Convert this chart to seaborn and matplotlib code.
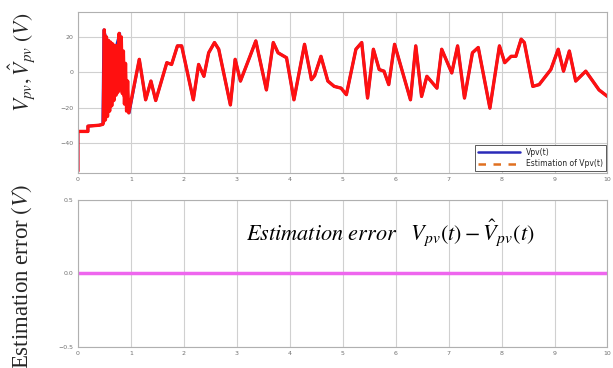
import numpy as np
import pandas as pd
import matplotlib
matplotlib.use("Agg")
import matplotlib.pyplot as plt
import seaborn as sns
from matplotlib.lines import Line2D


# 1. Data

# measured PV voltage Vpv(t)
t_vpv = [0.0, 0.0, 0.19, 0.19, 0.40, 0.47, 0.49, 0.55, 0.65, 0.72, 0.79, 0.97,
         1.16, 1.28, 1.38, 1.47, 1.68, 1.77, 1.88, 1.96, 2.18, 2.28, 2.38, 2.47,
         2.58, 2.66, 2.88, 2.97, 3.07, 3.25, 3.36, 3.56, 3.69, 3.78, 3.94, 4.08,
         4.28, 4.41, 4.47, 4.59, 4.72, 4.84, 4.97, 5.07, 5.25, 5.36, 5.47, 5.58,
         5.69, 5.78, 5.87, 5.98, 6.28, 6.38, 6.49, 6.59, 6.78, 6.87, 7.06, 7.17,
         7.30, 7.45, 7.56, 7.78, 7.96, 8.06, 8.18, 8.27, 8.37, 8.43, 8.59, 8.71,
         8.93, 9.07, 9.17, 9.28, 9.40, 9.59, 9.84, 10.0]
v_vpv = [-56, -33.5, -33.5, -30.5, -30.0, -29.5, 24.0, 17.0, 15.0, 14.0, 22.0, -23.0,
         7.3, -15.6, -5.0, -16.0, 5.4, 4.4, 14.9, 14.9, -15.6, 4.4, -2.3, 11.0,
         16.8, 13.0, -18.5, 7.3, -5.0, 9.0, 17.7, -10.0, 16.8, 11.0, 8.2, -15.6,
         15.8, -4.2, -2.0, 9.0, -5.0, -8.0, -9.0, -12.7, 13.0, 16.8, -14.6, 13.0,
         1.5, 0.6, -7.0, 15.8, -15.6, 14.9, -13.7, -2.3, -9.0, 13.0, -0.4, 14.9,
         -14.6, 11.0, 14.0, -20.3, 14.9, 5.4, 9.0, 9.0, 18.7, 16.8, -8.0, -7.0,
         1.5, 13.0, 0.6, 12.0, -5.0, 0.6, -10.0, -13.7]

# estimate: chatters between 0.48 s and 0.97 s, then tracks Vpv
t_band = [0.48, 0.50, 0.52, 0.54, 0.56, 0.58, 0.60, 0.62, 0.64, 0.66, 0.68, 0.70,
          0.72, 0.74, 0.76, 0.78, 0.80, 0.82, 0.84, 0.86, 0.88, 0.90, 0.92, 0.94, 0.96]
v_band = [-29, 24, -27, 20, -25, 18, -22, 17, -19, 16, -16, 15,
          -13, 15, -11, 22, -8, 20, -12, 12, -18, 5, -22, -5, -23]

# envelope of the chattering band
t_env = [0.48, 0.50, 0.55, 0.60, 0.65, 0.70, 0.75, 0.79, 0.85, 0.90, 0.97]
env_hi = [-29, 24, 18, 17, 16, 15, 17, 22, 8, -5, -23]
env_lo = [-29, -28, -25, -20, -15, -13, -12, -10, -14, -20, -23]

# estimation error
t_err = [0.0, 10.0]
v_err = [0.0, 0.0]

x_ticks = [0, 1, 2, 3, 4, 5, 6, 7, 8, 9, 10]
top_yticks = [-40, -20, 0, 20]
bot_yticks = [-0.5, 0, 0.5]


# 2. Build the series
t_est = [t for t in t_vpv if t < 0.48] + t_band + [t for t in t_vpv if t > 0.97]
v_est = ([v for t, v in zip(t_vpv, v_vpv) if t < 0.48] + v_band
         + [v for t, v in zip(t_vpv, v_vpv) if t > 0.97])

vpv_df = pd.DataFrame({'t': t_vpv, 'v': v_vpv})
est_df = pd.DataFrame({'t': t_est, 'v': v_est})
err_df = pd.DataFrame({'t': t_err, 'v': v_err})


# 3. Plot
sns.set_theme(style="whitegrid")
plt.rcParams['mathtext.fontset'] = 'stix'

fig = plt.figure(figsize=(6.13, 3.68), dpi=100)
ax1 = fig.add_axes([0.127, 0.530, 0.864, 0.437])
ax2 = fig.add_axes([0.127, 0.057, 0.864, 0.400])

sns.lineplot(data=vpv_df, x='t', y='v', ax=ax1, color='#2a2ab8', lw=2.0,
             sort=False, estimator=None)
sns.lineplot(data=est_df, x='t', y='v', ax=ax1, color='#ff1010', lw=2.4,
             sort=False, estimator=None, dashes=False)
ax1.fill_between(t_env, env_lo, env_hi, facecolor='#ff1010', edgecolor='#ff1010',
                 lw=0.5, zorder=5)
sns.lineplot(data=err_df, x='t', y='v', ax=ax2, color='#ee66ee', lw=2.5,
             sort=False, estimator=None)

for ax, yt in [(ax1, top_yticks), (ax2, bot_yticks)]:
    ax.set_xlim(0, 10)
    ax.set_xticks(x_ticks)
    ax.set_yticks(yt)
    ax.set_xlabel('')
    ax.set_ylabel('')
    ax.grid(True, color='#d0d0d0', lw=0.8)
    ax.tick_params(labelsize=4.5, colors='#707070', length=0, pad=3)
    for s in ax.spines.values():
        s.set_color('#b0b0b0')
        s.set_linewidth(0.8)

ax1.set_ylim(-57, 34)
ax2.set_ylim(-0.5, 0.5)

handles = [Line2D([], [], color='#2a2ab8', lw=1.8),
           Line2D([], [], color='#e07020', lw=1.8, ls=(0, (3, 3)))]
leg = ax1.legend(handles, ['Vpv(t)', 'Estimation of Vpv(t)'], loc='lower right',
                 fontsize=5.5, handlelength=5.5, fancybox=False, framealpha=1,
                 borderaxespad=0.2, labelspacing=0.35, borderpad=0.4)
leg.get_frame().set_edgecolor('#404040')
leg.get_frame().set_linewidth(0.6)
leg.set_zorder(10)

ax2.text(3.18, 0.28, r'$\mathit{Estimation\ error}\ \ \ V_{pv}(t) - \hat{V}_{pv}(t)$',
         fontsize=16, va='center', ha='left', color='black')

fig.text(0.035, 0.83, r'$V_{pv}, \hat{V}_{pv}\ (V)$', rotation=90, fontsize=15.5,
         ha='center', va='center')
fig.text(0.035, 0.25, 'Estimation error $(V)$', rotation=90, fontsize=16.5,
         ha='center', va='center', family='Liberation Serif')

plt.savefig("out.png", dpi=100)
